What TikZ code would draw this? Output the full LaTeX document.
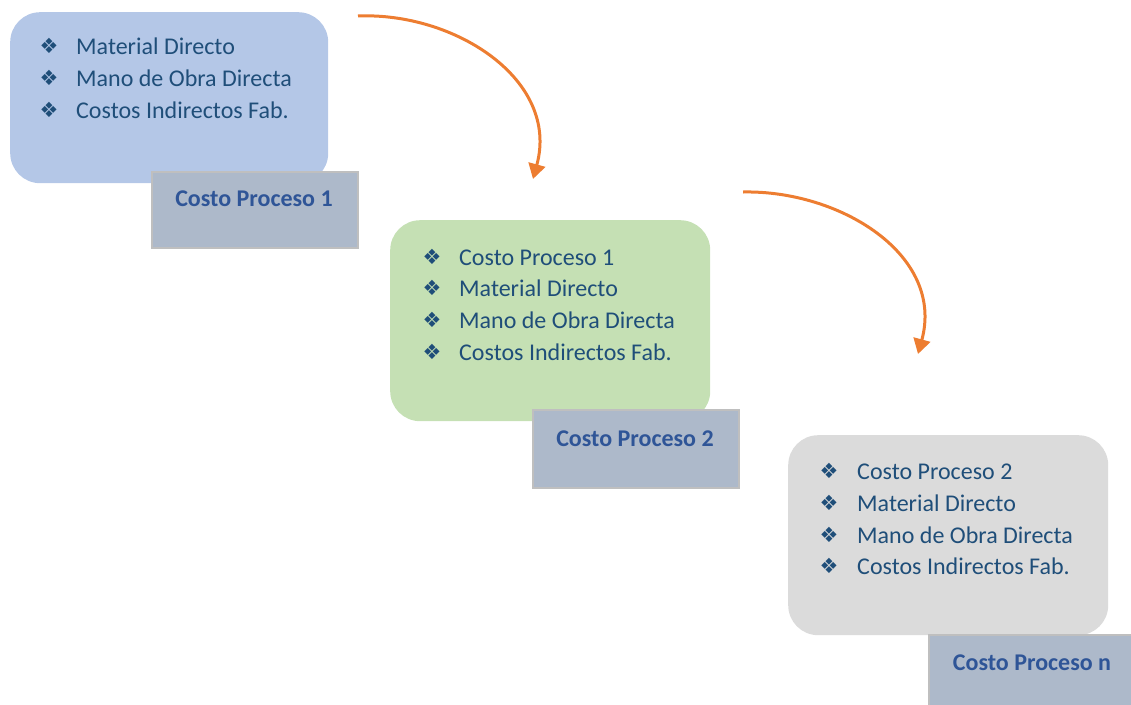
\documentclass[tikz,border=0pt]{standalone}
\usepackage{fontspec}
\setmainfont{Carlito}
\newfontfamily\symfont{DejaVu Sans}
\usetikzlibrary{arrows.meta}
\definecolor{boxblue}{HTML}{B4C7E7}
\definecolor{boxgreen}{HTML}{C5E0B4}
\definecolor{boxgray}{HTML}{DBDBDB}
\definecolor{labfill}{HTML}{ADB9CA}
\definecolor{labdraw}{HTML}{BFBFBF}
\definecolor{labtext}{HTML}{2F5597}
\definecolor{itemtext}{HTML}{1F4E79}
\definecolor{arroworange}{HTML}{ED7D31}
\tikzset{
  panel/.style={rounded corners=30pt, draw=none, anchor=north west, inner sep=0pt},
  labelbox/.style={fill=labfill, draw=labdraw, line width=2pt, anchor=north west, inner sep=0pt},
  labeltext/.style={font=\fontsize{24}{28}\selectfont\bfseries, text=labtext, anchor=base, inner sep=0pt},
  itemline/.style={font=\fontsize{24}{28}\selectfont, text=itemtext, anchor=base west, inner sep=0pt},
  bulletmark/.style={font=\symfont\fontsize{21}{24}\selectfont, text=itemtext, anchor=base, inner sep=0pt},
  flowarrow/.style={draw=arroworange, line width=3pt, -{Triangle[width=17pt,length=15pt]}}
}
\begin{document}
\begin{tikzpicture}[x=1pt,y=-1pt]
\useasboundingbox (0,0) rectangle (1131,704);
% panels
\node[panel, fill=boxblue, minimum width=318pt, minimum height=171pt] (p1) at (10,12) {};
\node[labelbox, minimum width=206pt, minimum height=76pt] (l1) at (151,171) {};
\node[panel, fill=boxgreen, minimum width=320pt, minimum height=201pt] (p2) at (390,220) {};
\node[labelbox, minimum width=206pt, minimum height=78pt] (l2) at (532,409) {};
\node[panel, fill=boxgray, minimum width=320pt, minimum height=200pt] (p3) at (788,435) {};
\node[labelbox, minimum width=210pt, minimum height=74pt] (l3) at (928,634) {};
% label texts
\node[labeltext] (t1) at (254,206) {Costo Proceso 1};
\node[labeltext] (t2) at (635,446) {Costo Proceso 2};
\node[labeltext] (t3) at (1032,670) {Costo Proceso n};
% panel 1 items
\node[bulletmark] (b11) at (49,53) {❖};
\node[itemline] (i11) at (76,54) {Material Directo};
\node[bulletmark] (b12) at (49,85) {❖};
\node[itemline] (i12) at (76,86) {Mano de Obra Directa};
\node[bulletmark] (b13) at (49,117) {❖};
\node[itemline] (i13) at (76,118) {Costos Indirectos Fab.};
% panel 2 items
\node[bulletmark] (b21) at (432,264) {❖};
\node[itemline] (i21) at (459,265) {Costo Proceso 1};
\node[bulletmark] (b22) at (432,295) {❖};
\node[itemline] (i22) at (459,296) {Material Directo};
\node[bulletmark] (b23) at (432,327) {❖};
\node[itemline] (i23) at (459,328) {Mano de Obra Directa};
\node[bulletmark] (b24) at (432,359) {❖};
\node[itemline] (i24) at (459,360) {Costos Indirectos Fab.};
% panel 3 items
\node[bulletmark] (b31) at (829,478) {❖};
\node[itemline] (i31) at (857,479) {Costo Proceso 2};
\node[bulletmark] (b32) at (829,510) {❖};
\node[itemline] (i32) at (857,511) {Material Directo};
\node[bulletmark] (b33) at (829,542) {❖};
\node[itemline] (i33) at (857,543) {Mano de Obra Directa};
\node[bulletmark] (b34) at (829,573) {❖};
\node[itemline] (i34) at (857,574) {Costos Indirectos Fab.};
% arrows
\coordinate (a1s) at (358,16);
\coordinate (a1e) at (533,179);
\coordinate (a2s) at (743,192);
\coordinate (a2e) at (918,354);
\draw[flowarrow] (a1s) .. controls (455,12) and (560,80) .. (a1e);
\draw[flowarrow] (a2s) .. controls (840,190) and (945,255) .. (a2e);
\end{tikzpicture}
\end{document}
